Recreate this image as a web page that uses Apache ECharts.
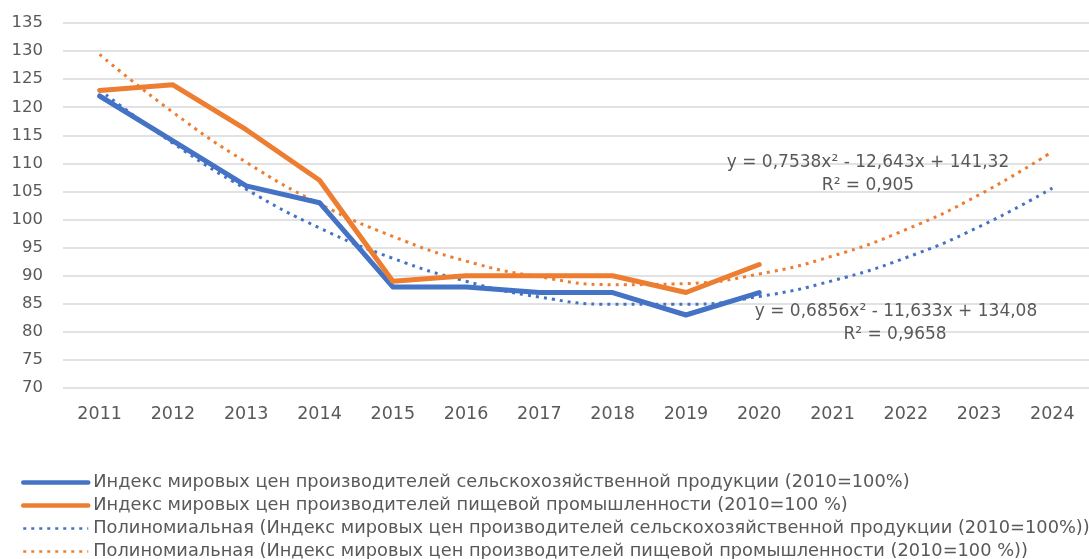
<!DOCTYPE html>
<html>
<head>
<meta charset="utf-8">
<script src="https://cdn.jsdelivr.net/npm/echarts@6/dist/echarts.min.js"></script>
<style>
  html, body { margin: 0; padding: 0; background: #fff; }
  #chart { width: 1089px; height: 559px; }
</style>
</head>
<body>
<div id="chart"></div>
<script>
// years on the x axis
var years = ['2011','2012','2013','2014','2015','2016','2017','2018','2019','2020','2021','2022','2023','2024']

// actual indices, 2011-2020
var agriIndex = [122, 114, 106, 103, 88, 88, 87, 87, 83, 87]
var foodIndex = [123, 124, 116, 107, 89, 90, 90, 90, 87, 92]

// polynomial trend lines, 2011-2024
var agriTrend = [123.1, 113.6, 105.4, 98.5, 93.1, 89.0, 86.2, 84.9, 84.9, 86.3, 89.1, 93.2, 98.7, 105.6]
var foodTrend = [129.4, 119.1, 110.2, 102.8, 97.0, 92.6, 89.8, 88.4, 88.6, 90.3, 93.5, 98.2, 104.4, 112.1]

var names = [
  'Индекс мировых цен производителей сельскохозяйственной продукции (2010=100%)',
  'Индекс мировых цен производителей пищевой промышленности (2010=100 %)',
  'Полиномиальная (Индекс мировых цен производителей сельскохозяйственной продукции (2010=100%))',
  'Полиномиальная (Индекс мировых цен производителей пищевой промышленности (2010=100 %))'
]

var blue = '#4472C4'
var orange = '#ED7D31'
var textColor = '#595959'
var font = 'DejaVu Sans'

var chart = echarts.init(document.getElementById('chart'))

function solid(name, data, color) {
  return {
    name: name, type: 'line', data: data, symbol: 'none', z: 3,
    lineStyle: { color: color, width: 5, cap: 'round', join: 'round' },
    itemStyle: { color: color }
  }
}
function trend(name, data, color) {
  return {
    name: name, type: 'line', data: data, symbol: 'none', smooth: 0.5, z: 2,
    lineStyle: { color: color, width: 3, type: [3, 5], cap: 'butt' },
    itemStyle: { color: color }
  }
}

function eqText(x, y, text) {
  return {
    type: 'text', x: x, y: y, z: 10,
    style: { text: text, fill: textColor, font: '17px "' + font + '"', textAlign: 'center', textVerticalAlign: 'middle' }
  }
}

chart.setOption({
  animation: false,
  textStyle: { fontFamily: font },
  grid: { left: 63, top: 23, width: 1037, bottom: 171 },
  xAxis: {
    type: 'category',
    data: years,
    boundaryGap: true,
    axisLine: { show: false },
    axisTick: { show: false },
    axisLabel: { color: textColor, fontSize: 17.5, margin: 17 }
  },
  yAxis: {
    type: 'value',
    min: 70, max: 135, interval: 5,
    axisLine: { show: false },
    axisTick: { show: false },
    axisLabel: { color: textColor, fontSize: 16.5, margin: 20 },
    splitLine: { lineStyle: { color: '#d9d9d9', width: 1.5 } }
  },
  legend: {
    orient: 'vertical',
    left: 16, top: 466, height: 100,
    itemWidth: 65, itemHeight: 14, itemGap: 0,
    itemStyle: { opacity: 0, borderWidth: 0 },
    lineStyle: { width: 'inherit' },
    textStyle: { color: textColor, fontSize: 17.8, lineHeight: 23, fontFamily: font },
    data: [
      { name: names[0], lineStyle: { width: 4.5, cap: 'round' } },
      { name: names[1], lineStyle: { width: 4.5, cap: 'round' } },
      { name: names[2], lineStyle: { width: 2.5 } },
      { name: names[3], lineStyle: { width: 2.5 } }
    ]
  },
  graphic: [
    eqText(868, 163, 'y = 0,7538x² - 12,643x + 141,32'),
    eqText(868, 186, 'R² = 0,905'),
    eqText(896, 312, 'y = 0,6856x² - 11,633x + 134,08'),
    eqText(895, 335, 'R² = 0,9658')
  ],
  series: [
    solid(names[0], agriIndex, blue),
    solid(names[1], foodIndex, orange),
    trend(names[2], agriTrend, blue),
    trend(names[3], foodTrend, orange)
  ]
})
</script>
</body>
</html>
